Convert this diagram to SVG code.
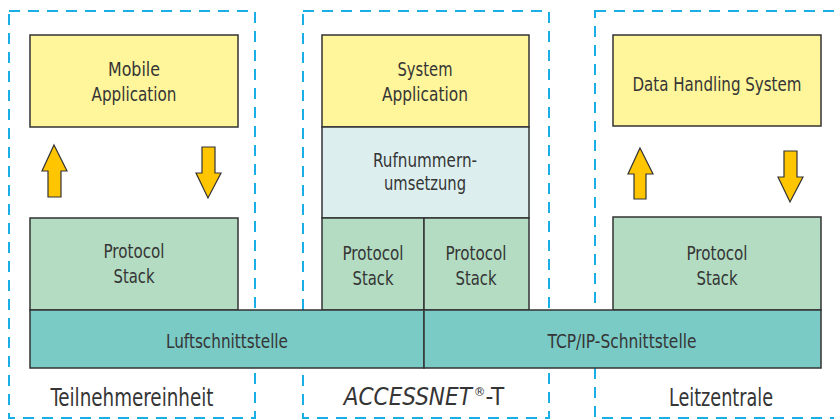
<svg xmlns="http://www.w3.org/2000/svg" width="834" height="419" viewBox="0 0 834 419">
  <style>
    .zone { fill: none; stroke: #1aaee6; stroke-width: 2; stroke-dasharray: 11 8; }
    .box { stroke: #333; stroke-width: 1.5; }
    .app { fill: #fff59b; }
    .map { fill: #dcefee; }
    .stack { fill: #b3dcc2; }
    .link { fill: #7acac6; }
    .arrow { fill: #ffc600; stroke: #333; stroke-width: 1.2; stroke-linejoin: miter; }
    text { font-family: "Liberation Sans Narrow", "DejaVu Sans Condensed", "Liberation Sans", sans-serif; fill: #353535; text-anchor: middle; }
    .t { font-size: 20px; }
    .lbl { font-size: 24px; }
  </style>

  <!-- dashed zones -->
  <g id="zones">
    <rect class="zone" x="9" y="11" width="246" height="407"/>
    <rect class="zone" x="303" y="11" width="246" height="407"/>
    <rect class="zone" x="595" y="11" width="252" height="407"/>
  </g>

  <!-- Teilnehmereinheit -->
  <g id="mobile-app">
    <rect class="box app" x="30" y="35" width="208" height="92"/>
    <text class="t" x="134" y="76" textLength="52" lengthAdjust="spacingAndGlyphs">Mobile</text>
    <text class="t" x="134" y="101" textLength="85" lengthAdjust="spacingAndGlyphs">Application</text>
  </g>
  <g id="stack-left">
    <rect class="box stack" x="30" y="218" width="208" height="92"/>
    <text class="t" x="134" y="258" textLength="61" lengthAdjust="spacingAndGlyphs">Protocol</text>
    <text class="t" x="134" y="283" textLength="41" lengthAdjust="spacingAndGlyphs">Stack</text>
  </g>

  <!-- ACCESSNET-T -->
  <g id="system-app">
    <rect class="box app" x="322" y="35" width="207" height="92"/>
    <text class="t" x="425" y="76" textLength="55" lengthAdjust="spacingAndGlyphs">System</text>
    <text class="t" x="425" y="101" textLength="86" lengthAdjust="spacingAndGlyphs">Application</text>
  </g>
  <g id="number-mapping">
    <rect class="box map" x="322" y="127" width="207" height="91"/>
    <text class="t" x="425" y="167" textLength="104" lengthAdjust="spacingAndGlyphs">Rufnummern-</text>
    <text class="t" x="425" y="190" textLength="82" lengthAdjust="spacingAndGlyphs">umsetzung</text>
  </g>
  <g id="stack-mid-left">
    <rect class="box stack" x="322" y="218" width="102" height="92"/>
    <text class="t" x="373" y="260" textLength="61" lengthAdjust="spacingAndGlyphs">Protocol</text>
    <text class="t" x="373" y="285" textLength="41" lengthAdjust="spacingAndGlyphs">Stack</text>
  </g>
  <g id="stack-mid-right">
    <rect class="box stack" x="424" y="218" width="105" height="92"/>
    <text class="t" x="476" y="260" textLength="61" lengthAdjust="spacingAndGlyphs">Protocol</text>
    <text class="t" x="476" y="285" textLength="41" lengthAdjust="spacingAndGlyphs">Stack</text>
  </g>

  <!-- Leitzentrale -->
  <g id="data-handling">
    <rect class="box app" x="613" y="35" width="208" height="91"/>
    <text class="t" x="717" y="91" textLength="169" lengthAdjust="spacingAndGlyphs">Data Handling System</text>
  </g>
  <g id="stack-right">
    <rect class="box stack" x="613" y="217" width="208" height="93"/>
    <text class="t" x="717" y="260" textLength="61" lengthAdjust="spacingAndGlyphs">Protocol</text>
    <text class="t" x="717" y="285" textLength="41" lengthAdjust="spacingAndGlyphs">Stack</text>
  </g>

  <!-- interfaces -->
  <g id="air-interface">
    <rect class="box link" x="30" y="310" width="394" height="58"/>
    <text class="t" x="227" y="348" textLength="122" lengthAdjust="spacingAndGlyphs">Luftschnittstelle</text>
  </g>
  <g id="tcpip-interface">
    <rect class="box link" x="424" y="310" width="397" height="58"/>
    <text class="t" x="622" y="348" textLength="149" lengthAdjust="spacingAndGlyphs">TCP/IP-Schnittstelle</text>
  </g>

  <!-- data flow arrows -->
  <g id="connectors">
    <polygon class="arrow" points="54,145 67,171 61,171 61,197 48,197 48,171 42,171"/>
    <polygon class="arrow" points="202,147 215,147 215,173 221,173 208,198 196,173 202,173"/>
    <polygon class="arrow" points="640,148 653,174 646,174 646,199 634,199 634,174 628,174"/>
    <polygon class="arrow" points="784,151 797,151 797,177 803,177 790,202 778,177 784,177"/>
  </g>

  <!-- zone labels -->
  <g id="labels">
    <text class="lbl" x="132" y="406" textLength="163" lengthAdjust="spacingAndGlyphs">Teilnehmereinheit</text>
    <text class="lbl" x="424" y="405" font-size="22"><tspan font-style="italic">ACCESSNET</tspan><tspan font-size="13" dx="2" dy="-9">®</tspan><tspan dy="9">-T</tspan></text>
    <text class="lbl" x="721" y="406" textLength="104" lengthAdjust="spacingAndGlyphs">Leitzentrale</text>
  </g>
</svg>
